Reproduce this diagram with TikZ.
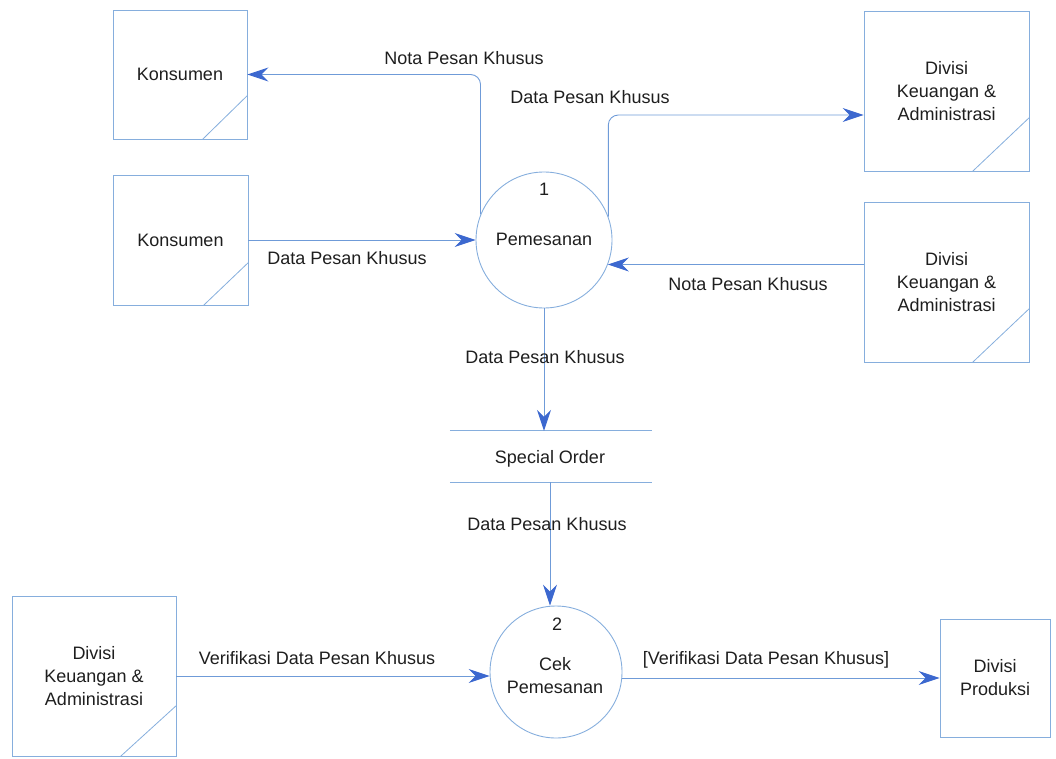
\documentclass[tikz,border=0pt]{standalone}
\usepackage{fontspec}
\setmainfont{Liberation Sans}
\usetikzlibrary{arrows.meta}
\definecolor{boxblue}{HTML}{86AEDD}
\definecolor{lineblue}{HTML}{6F9BD8}
\definecolor{tipblue}{HTML}{3C68CF}
\definecolor{txt}{HTML}{1E1E1E}
\begin{document}
\begin{tikzpicture}[x=1pt,y=-1pt,
  extbox/.style={draw=boxblue, line width=0.9pt, align=center, inner sep=0pt,
    font=\fontsize{18}{23}\selectfont, text=txt},
  proc/.style={circle, draw=boxblue, line width=0.9pt, inner sep=0pt},
  lbl/.style={font=\fontsize{18}{23}\selectfont, text=txt, inner sep=0pt, align=center},
  flow/.style={draw=lineblue, line width=0.9pt,
    -{Stealth[length=21pt, width=14pt, inset=7pt, color=tipblue, fill=tipblue]}},
  diag/.style={draw=boxblue, line width=0.8pt},
  storeline/.style={draw=boxblue, line width=0.9pt}]
\useasboundingbox (0,0) rectangle (1056,759);

% external entities
\node[extbox, minimum width=134pt, minimum height=129pt] (k1) at (180,74.5) {Konsumen};
\node[extbox, minimum width=135pt, minimum height=130pt] (k2) at (180.5,240) {Konsumen};
\node[extbox, minimum width=165pt, minimum height=160pt] (d1) at (946.5,91) {Divisi\\Keuangan \&\\Administrasi};
\node[extbox, minimum width=165pt, minimum height=160pt] (d2) at (946.5,282) {Divisi\\Keuangan \&\\Administrasi};
\node[extbox, minimum width=164pt, minimum height=160pt] (b1) at (94,676) {Divisi\\Keuangan \&\\Administrasi};
\node[extbox, minimum width=110pt, minimum height=118pt] (pr) at (995,678) {Divisi\\Produksi};

% corner diagonals
\draw[diag] ([xshift=-45pt]k1.south east) -- ([yshift=44pt]k1.south east);
\draw[diag] ([xshift=-45pt]k2.south east) -- ([yshift=43pt]k2.south east);
\draw[diag] ([xshift=-57pt]d1.south east) -- ([yshift=54pt]d1.south east);
\draw[diag] ([xshift=-57pt]d2.south east) -- ([yshift=54pt]d2.south east);
\draw[diag] ([xshift=-56pt]b1.south east) -- ([yshift=51pt]b1.south east);

% processes
\node[proc, minimum size=136pt] (c1) at (544,240) {};
\node[lbl] (c1n) at (544,189) {1};
\node[lbl] (c1t) at (544,239) {Pemesanan};
\node[proc, minimum size=132pt] (c2) at (556,672) {};
\node[lbl] (c2n) at (557,624) {2};
\node[lbl] (c2t) at (555,676) {Cek\\Pemesanan};

% data store
\node[minimum width=202pt, minimum height=51pt, inner sep=0pt] (st) at (551,456.5) {};
\node[lbl] (stt) at (550,459) {Special Order};
\draw[storeline] (st.north west) -- (st.north east);
\draw[storeline] (st.south west) -- (st.south east);

% entry point on d1
\coordinate (d1in) at ([yshift=-24pt]d1.west);

% flows
\draw[flow, rounded corners=10pt] (c1.158) -- (c1.158 |- k1.east) -- (k1.east);
\draw[flow, rounded corners=10pt] (c1.20) -- (c1.20 |- d1in) -- (d1in);
\draw[flow] (k2.east) -- (k2.east -| c1.west);
\draw[flow] (c1.-21.6 -| d2.west) -- (c1.-21.6);
\draw[flow] (c1.south) -- (c1.south |- st.north);
\draw[flow] ([xshift=-6pt]c2.north |- st.south) -- ([xshift=-6pt]c2.north);
\draw[flow] (b1.east) -- (b1.east -| c2.west);
\draw[flow] (pr.west -| c2.east) -- (pr.west);

% flow labels
\node[lbl] (l1) at (464,58) {Nota Pesan Khusus};
\node[lbl] (l2) at (590,97) {Data Pesan Khusus};
\node[lbl] (l3) at (347,258) {Data Pesan Khusus};
\node[lbl] (l4) at (748,284) {Nota Pesan Khusus};
\node[lbl] (l5) at (545,357) {Data Pesan Khusus};
\node[lbl] (l6) at (547,524) {Data Pesan Khusus};
\node[lbl] (l7) at (317,658) {Verifikasi Data Pesan Khusus};
\node[lbl] (l8) at (766,660) {[Verifikasi Data Pesan Khusus]};
\end{tikzpicture}
\end{document}
